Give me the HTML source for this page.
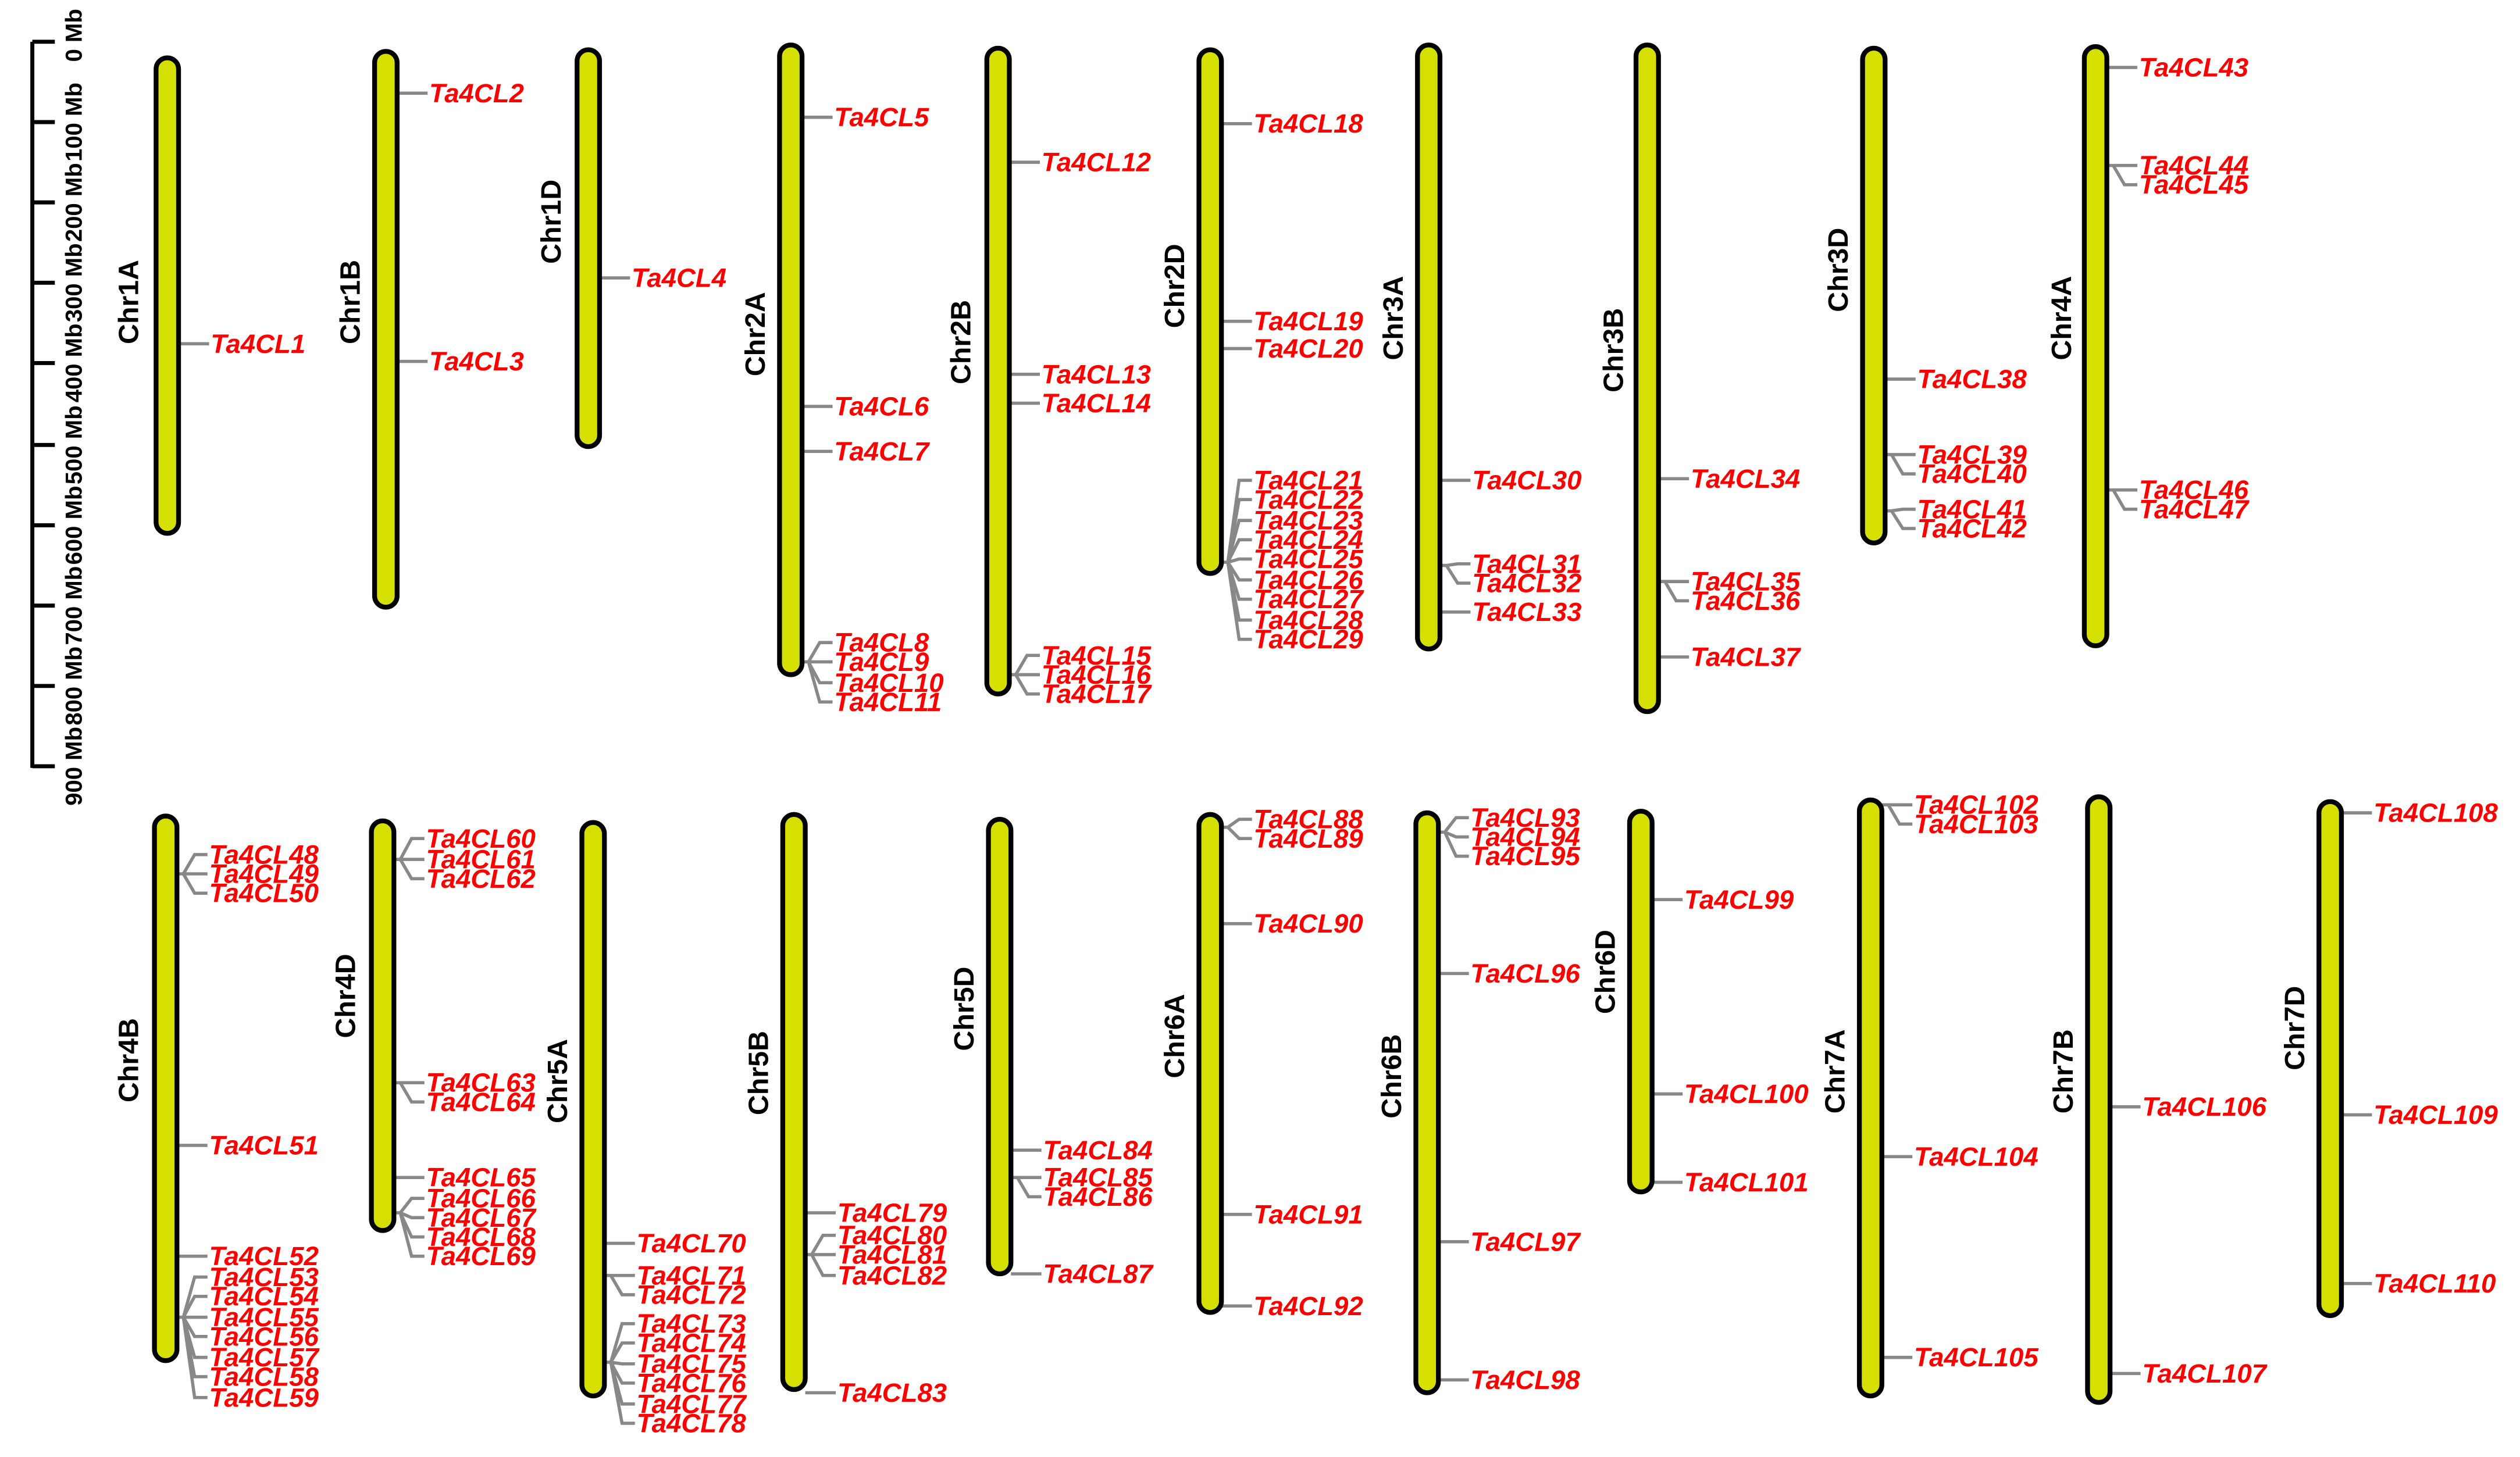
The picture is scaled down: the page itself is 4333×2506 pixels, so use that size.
<!DOCTYPE html>
<html><head><meta charset="utf-8"><style>
html,body{margin:0;padding:0;background:#fff}
svg{display:block}
.c{fill:#d6e000;stroke:#000;stroke-width:3}
.l{stroke:#888;stroke-width:2;fill:none}
.g{font-family:"Liberation Sans",sans-serif;font-style:italic;font-weight:bold;font-size:16.5px;fill:#f00;dominant-baseline:central}
.n{font-family:"Liberation Sans",sans-serif;font-weight:bold;font-size:17.5px;fill:#000;text-anchor:middle;dominant-baseline:central}
.s{font-family:"Liberation Sans",sans-serif;font-weight:bold;font-size:14.5px;fill:#000;text-anchor:middle;dominant-baseline:central}
</style></head><body>
<svg width="4333" height="2506" viewBox="0 0 1568 907" xmlns="http://www.w3.org/2000/svg">
<g stroke="#000" stroke-width="2.5">
<line x1="20" y1="26" x2="20" y2="478"/>
<line x1="20" y1="26" x2="34" y2="26"/><line x1="20" y1="76" x2="34" y2="76"/><line x1="20" y1="126" x2="34" y2="126"/><line x1="20" y1="176" x2="34" y2="176"/><line x1="20" y1="226" x2="34" y2="226"/><line x1="20" y1="277" x2="34" y2="277"/><line x1="20" y1="327" x2="34" y2="327"/><line x1="20" y1="377" x2="34" y2="377"/><line x1="20" y1="427" x2="34" y2="427"/><line x1="20" y1="477" x2="34" y2="477"/>
</g>
<text class="s" transform="translate(46,22) rotate(-90)">0 Mb</text>
<text class="s" transform="translate(46,76) rotate(-90)">100 Mb</text>
<text class="s" transform="translate(46,126) rotate(-90)">200 Mb</text>
<text class="s" transform="translate(46,176) rotate(-90)">300 Mb</text>
<text class="s" transform="translate(46,226) rotate(-90)">400 Mb</text>
<text class="s" transform="translate(46,277) rotate(-90)">500 Mb</text>
<text class="s" transform="translate(46,327) rotate(-90)">600 Mb</text>
<text class="s" transform="translate(46,377) rotate(-90)">700 Mb</text>
<text class="s" transform="translate(46,427) rotate(-90)">800 Mb</text>
<text class="s" transform="translate(46,477) rotate(-90)">900 Mb</text>

<path class="l" d="
M111 214H130
M247 58H266 M247 225H266
M373 173H392
M499 73H518 M499 253H518 M499 281H518
M499 412H503L510 400H518 M503 412H518 M503 412L510 425H518 M503 412L510 437H518
M628 101H647 M628 233H647 M628 251H647
M628 420H632L639 408H647 M632 420H647 M632 420L639 432H647
M760 77H779 M760 200H779 M760 217H779
M760 350H764L771 299H779 M764 350L771 311H779 M764 350L771 324H779 M764 350L771 336H779 M764 350L771 348H779 M764 350L771 361H779 M764 350L771 373H779 M764 350L771 386H779 M764 350L771 398H779
M896 299H915 M896 381H915
M896 352H900L907 351H915 M900 352L907 363H915
M1032 298H1051 M1032 409H1051
M1032 362H1036L1043 362H1051 M1036 362L1043 374H1051
M1173 236H1192
M1173 283H1177L1184 283H1192 M1177 283L1184 295H1192
M1173 318H1177L1184 317H1192 M1177 318L1184 329H1192
M1311 42H1330
M1311 103H1315L1322 103H1330 M1315 103L1322 115H1330
M1311 305H1315L1322 305H1330 M1315 305L1322 317H1330
M110 713H129 M110 782H129
M110 544H114L121 532H129 M114 544H129 M114 544L121 556H129
M110 820H114L121 795H129 M114 820L121 807H129 M114 820H129 M114 820L121 832H129 M114 820L121 845H129 M114 820L121 857H129 M114 820L121 870H129
M245 733H264
M245 535H249L256 522H264 M249 535H264 M249 535L256 547H264
M245 674H249L256 674H264 M249 674L256 686H264
M245 755H249L256 746H264 M249 755L256 758H264 M249 755L256 770H264 M249 755L256 782H264
M376 774H395
M376 794H380L387 794H395 M380 794L387 806H395
M376 848H380L387 824H395 M380 848L387 836H395 M380 848L387 849H395 M380 848L387 861H395 M380 848L387 874H395 M380 848L387 886H395
M501 755H520 M501 867H520
M501 781H505L512 769H520 M505 781H520 M505 781L512 794H520
M629 716H648 M629 793H648
M629 733H633L640 733H648 M633 733L640 745H648
M760 575H779 M760 756H779 M760 813H779
M760 515H764L771 510H779 M764 515L771 522H779
M895 606H914 M895 773H914 M895 859H914
M895 518H899L906 509H914 M899 518L906 521H914 M899 518L906 533H914
M1028 560H1047 M1028 681H1047 M1028 736H1047
M1171 720H1190 M1171 845H1190
M1171 501H1175L1182 501H1190 M1175 501L1182 513H1190
M1313 689H1332 M1313 855H1332
M1457 506H1476 M1457 694H1476 M1457 799H1476
"/>

<rect class="c" x="97" y="36" width="14" height="296" rx="7"/>
<rect class="c" x="233" y="32" width="14" height="346" rx="7"/>
<rect class="c" x="359" y="31" width="14" height="247" rx="7"/>
<rect class="c" x="485" y="28" width="14" height="392" rx="7"/>
<rect class="c" x="614" y="30" width="14" height="402" rx="7"/>
<rect class="c" x="746" y="31" width="14" height="326" rx="7"/>
<rect class="c" x="882" y="28" width="14" height="376" rx="7"/>
<rect class="c" x="1018" y="28" width="14" height="415" rx="7"/>
<rect class="c" x="1159" y="30" width="14" height="308" rx="7"/>
<rect class="c" x="1297" y="29" width="14" height="373" rx="7"/>
<rect class="c" x="96" y="508" width="14" height="339" rx="7"/>
<rect class="c" x="231" y="511" width="14" height="255" rx="7"/>
<rect class="c" x="362" y="512" width="14" height="357" rx="7"/>
<rect class="c" x="487" y="507" width="14" height="358" rx="7"/>
<rect class="c" x="615" y="510" width="14" height="283" rx="7"/>
<rect class="c" x="746" y="507" width="14" height="310" rx="7"/>
<rect class="c" x="881" y="506" width="14" height="361" rx="7"/>
<rect class="c" x="1014" y="505" width="14" height="237" rx="7"/>
<rect class="c" x="1157" y="498" width="14" height="371" rx="7"/>
<rect class="c" x="1299" y="496" width="14" height="377" rx="7"/>
<rect class="c" x="1443" y="499" width="14" height="320" rx="7"/>

<text class="n" transform="translate(80,188) rotate(-90)">Chr1A</text>
<text class="n" transform="translate(218,188) rotate(-90)">Chr1B</text>
<text class="n" transform="translate(343,138) rotate(-90)">Chr1D</text>
<text class="n" transform="translate(470,208) rotate(-90)">Chr2A</text>
<text class="n" transform="translate(598,213) rotate(-90)">Chr2B</text>
<text class="n" transform="translate(731,178) rotate(-90)">Chr2D</text>
<text class="n" transform="translate(867,198) rotate(-90)">Chr3A</text>
<text class="n" transform="translate(1004,218) rotate(-90)">Chr3B</text>
<text class="n" transform="translate(1144,168) rotate(-90)">Chr3D</text>
<text class="n" transform="translate(1283,198) rotate(-90)">Chr4A</text>
<text class="n" transform="translate(80,660) rotate(-90)">Chr4B</text>
<text class="n" transform="translate(215,620) rotate(-90)">Chr4D</text>
<text class="n" transform="translate(347,673) rotate(-90)">Chr5A</text>
<text class="n" transform="translate(472,668) rotate(-90)">Chr5B</text>
<text class="n" transform="translate(600,628) rotate(-90)">Chr5D</text>
<text class="n" transform="translate(731,645) rotate(-90)">Chr6A</text>
<text class="n" transform="translate(866,670) rotate(-90)">Chr6B</text>
<text class="n" transform="translate(999,605) rotate(-90)">Chr6D</text>
<text class="n" transform="translate(1142,667) rotate(-90)">Chr7A</text>
<text class="n" transform="translate(1284,667) rotate(-90)">Chr7B</text>
<text class="n" transform="translate(1428,640) rotate(-90)">Chr7D</text>

<text class="g" x="131" y="214">Ta4CL1</text>
<text class="g" x="267" y="58">Ta4CL2</text>
<text class="g" x="267" y="225">Ta4CL3</text>
<text class="g" x="393" y="173">Ta4CL4</text>
<text class="g" x="519" y="73">Ta4CL5</text>
<text class="g" x="519" y="253">Ta4CL6</text>
<text class="g" x="519" y="281">Ta4CL7</text>
<text class="g" x="519" y="400">Ta4CL8</text>
<text class="g" x="519" y="412">Ta4CL9</text>
<text class="g" x="519" y="425">Ta4CL10</text>
<text class="g" x="519" y="437">Ta4CL11</text>
<text class="g" x="648" y="101">Ta4CL12</text>
<text class="g" x="648" y="233">Ta4CL13</text>
<text class="g" x="648" y="251">Ta4CL14</text>
<text class="g" x="648" y="408">Ta4CL15</text>
<text class="g" x="648" y="420">Ta4CL16</text>
<text class="g" x="648" y="432">Ta4CL17</text>
<text class="g" x="780" y="77">Ta4CL18</text>
<text class="g" x="780" y="200">Ta4CL19</text>
<text class="g" x="780" y="217">Ta4CL20</text>
<text class="g" x="780" y="299">Ta4CL21</text>
<text class="g" x="780" y="311">Ta4CL22</text>
<text class="g" x="780" y="324">Ta4CL23</text>
<text class="g" x="780" y="336">Ta4CL24</text>
<text class="g" x="780" y="348">Ta4CL25</text>
<text class="g" x="780" y="361">Ta4CL26</text>
<text class="g" x="780" y="373">Ta4CL27</text>
<text class="g" x="780" y="386">Ta4CL28</text>
<text class="g" x="780" y="398">Ta4CL29</text>
<text class="g" x="916" y="299">Ta4CL30</text>
<text class="g" x="916" y="351">Ta4CL31</text>
<text class="g" x="916" y="363">Ta4CL32</text>
<text class="g" x="916" y="381">Ta4CL33</text>
<text class="g" x="1052" y="298">Ta4CL34</text>
<text class="g" x="1052" y="362">Ta4CL35</text>
<text class="g" x="1052" y="374">Ta4CL36</text>
<text class="g" x="1052" y="409">Ta4CL37</text>
<text class="g" x="1193" y="236">Ta4CL38</text>
<text class="g" x="1193" y="283">Ta4CL39</text>
<text class="g" x="1193" y="295">Ta4CL40</text>
<text class="g" x="1193" y="317">Ta4CL41</text>
<text class="g" x="1193" y="329">Ta4CL42</text>
<text class="g" x="1331" y="42">Ta4CL43</text>
<text class="g" x="1331" y="103">Ta4CL44</text>
<text class="g" x="1331" y="115">Ta4CL45</text>
<text class="g" x="1331" y="305">Ta4CL46</text>
<text class="g" x="1331" y="317">Ta4CL47</text>
<text class="g" x="130" y="532">Ta4CL48</text>
<text class="g" x="130" y="544">Ta4CL49</text>
<text class="g" x="130" y="556">Ta4CL50</text>
<text class="g" x="130" y="713">Ta4CL51</text>
<text class="g" x="130" y="782">Ta4CL52</text>
<text class="g" x="130" y="795">Ta4CL53</text>
<text class="g" x="130" y="807">Ta4CL54</text>
<text class="g" x="130" y="820">Ta4CL55</text>
<text class="g" x="130" y="832">Ta4CL56</text>
<text class="g" x="130" y="845">Ta4CL57</text>
<text class="g" x="130" y="857">Ta4CL58</text>
<text class="g" x="130" y="870">Ta4CL59</text>
<text class="g" x="265" y="522">Ta4CL60</text>
<text class="g" x="265" y="535">Ta4CL61</text>
<text class="g" x="265" y="547">Ta4CL62</text>
<text class="g" x="265" y="674">Ta4CL63</text>
<text class="g" x="265" y="686">Ta4CL64</text>
<text class="g" x="265" y="733">Ta4CL65</text>
<text class="g" x="265" y="746">Ta4CL66</text>
<text class="g" x="265" y="758">Ta4CL67</text>
<text class="g" x="265" y="770">Ta4CL68</text>
<text class="g" x="265" y="782">Ta4CL69</text>
<text class="g" x="396" y="774">Ta4CL70</text>
<text class="g" x="396" y="794">Ta4CL71</text>
<text class="g" x="396" y="806">Ta4CL72</text>
<text class="g" x="396" y="824">Ta4CL73</text>
<text class="g" x="396" y="836">Ta4CL74</text>
<text class="g" x="396" y="849">Ta4CL75</text>
<text class="g" x="396" y="861">Ta4CL76</text>
<text class="g" x="396" y="874">Ta4CL77</text>
<text class="g" x="396" y="886">Ta4CL78</text>
<text class="g" x="521" y="755">Ta4CL79</text>
<text class="g" x="521" y="769">Ta4CL80</text>
<text class="g" x="521" y="781">Ta4CL81</text>
<text class="g" x="521" y="794">Ta4CL82</text>
<text class="g" x="521" y="867">Ta4CL83</text>
<text class="g" x="649" y="716">Ta4CL84</text>
<text class="g" x="649" y="733">Ta4CL85</text>
<text class="g" x="649" y="745">Ta4CL86</text>
<text class="g" x="649" y="793">Ta4CL87</text>
<text class="g" x="780" y="510">Ta4CL88</text>
<text class="g" x="780" y="522">Ta4CL89</text>
<text class="g" x="780" y="575">Ta4CL90</text>
<text class="g" x="780" y="756">Ta4CL91</text>
<text class="g" x="780" y="813">Ta4CL92</text>
<text class="g" x="915" y="509">Ta4CL93</text>
<text class="g" x="915" y="521">Ta4CL94</text>
<text class="g" x="915" y="533">Ta4CL95</text>
<text class="g" x="915" y="606">Ta4CL96</text>
<text class="g" x="915" y="773">Ta4CL97</text>
<text class="g" x="915" y="859">Ta4CL98</text>
<text class="g" x="1048" y="560">Ta4CL99</text>
<text class="g" x="1048" y="681">Ta4CL100</text>
<text class="g" x="1048" y="736">Ta4CL101</text>
<text class="g" x="1191" y="501">Ta4CL102</text>
<text class="g" x="1191" y="513">Ta4CL103</text>
<text class="g" x="1191" y="720">Ta4CL104</text>
<text class="g" x="1191" y="845">Ta4CL105</text>
<text class="g" x="1333" y="689">Ta4CL106</text>
<text class="g" x="1333" y="855">Ta4CL107</text>
<text class="g" x="1477" y="506">Ta4CL108</text>
<text class="g" x="1477" y="694">Ta4CL109</text>
<text class="g" x="1477" y="799">Ta4CL110</text>
</svg>
</body></html>
